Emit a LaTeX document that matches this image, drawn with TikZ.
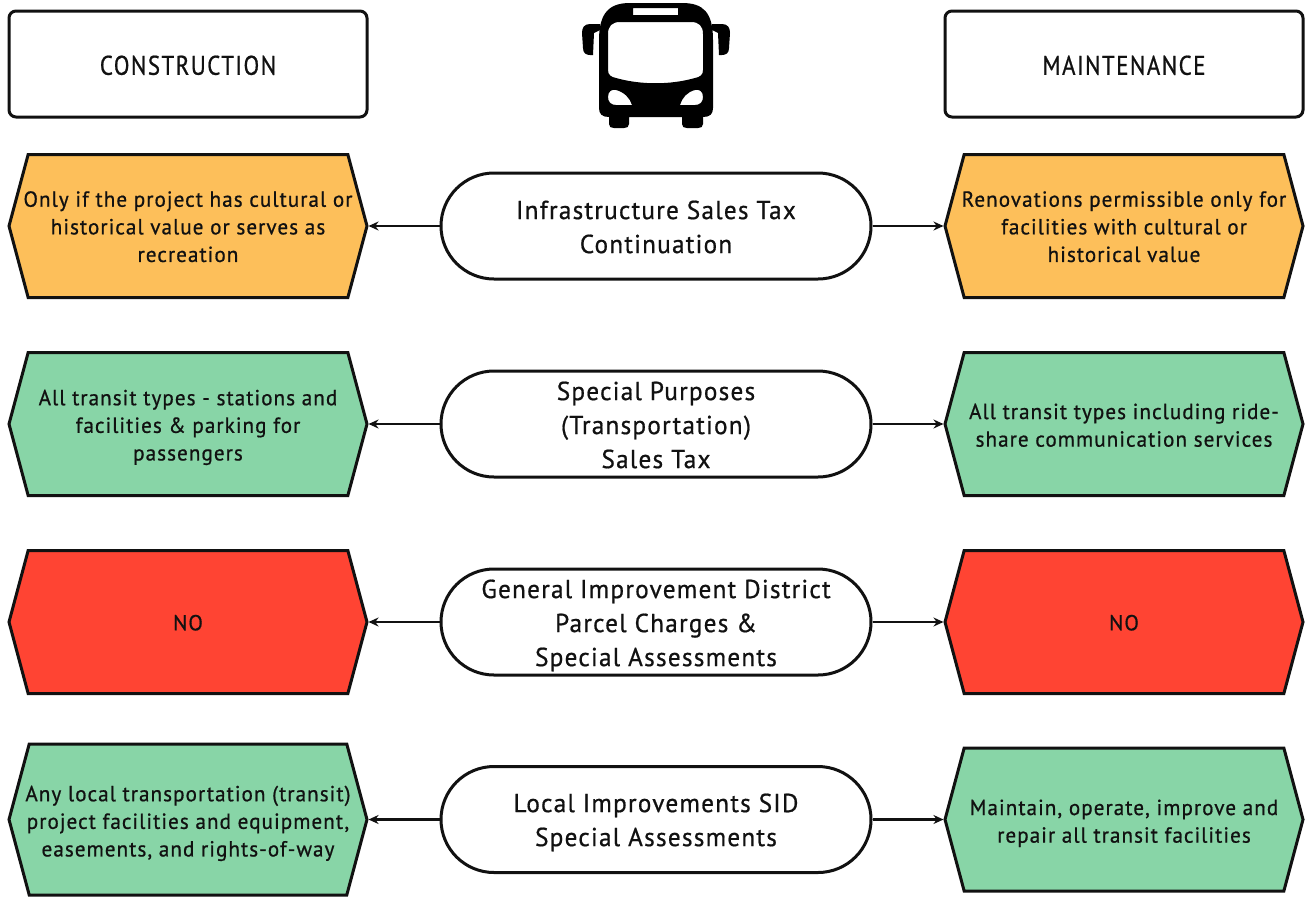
\documentclass[tikz,border=0pt]{standalone}
\usepackage{fontspec}
\setmainfont[LetterSpace=4.8,FakeStretch=0.97,FakeBold=0.7]{PT Sans}
\newfontfamily\headfont[LetterSpace=5.4,FakeStretch=0.85,FakeBold=0.7]{PT Sans}
\usetikzlibrary{shapes.misc,shapes.symbols,arrows.meta}
\definecolor{amber}{HTML}{FDBF5A}
\definecolor{mint}{HTML}{88D5A7}
\definecolor{alert}{HTML}{FF4433}
\definecolor{ink}{HTML}{111111}
\newcommand{\tx}[2][0pt]{\raisebox{#1}[0pt][0pt]{\begin{tabular}[c]{@{}c@{}}#2\end{tabular}}}
\tikzset{
  header/.style={draw=ink,line width=3pt,rounded corners=7pt,minimum width=358pt,minimum height=106pt,inner sep=0pt,text=ink,font=\headfont\fontsize{27}{30}\selectfont},
  pill/.style={draw=ink,line width=3pt,fill=white,rounded rectangle,minimum width=430pt,minimum height=106pt,inner sep=0pt,text=ink,font=\fontsize{26}{34}\selectfont},
  hexa/.style={draw=ink,line width=3pt,signal,signal to=west and east,signal pointer angle=150,minimum width=358pt,minimum height=#1,inner ysep=0pt,inner xsep=-30pt,text=ink,font=\fontsize{21.8}{27.6}\selectfont},
  hexa/.default=143pt,
  link/.style={draw=ink,line width=2.2pt,-{Stealth[length=10pt,width=9pt]}}
}
\begin{document}
\begin{tikzpicture}[x=1pt,y=-1pt]
\useasboundingbox (0,0) rectangle (1308,897);
\fill[white] (0,0) rectangle (1308,897);

\node[header] (hc) at (188,64) {\tx[-11pt]{CONSTRUCTION}};
\node[header] (hm) at (1124,64) {\tx[-11pt]{MAINTENANCE}};

% bus
\fill[black,even odd rule]
  (599,40) .. controls (599,12) and (610,3) .. (630,3) -- (682,3)
  .. controls (703,3) and (713,12) .. (713,40) -- (713,108)
  .. controls (713,114) and (710,117) .. (703,117) -- (703,124)
  .. controls (703,127) and (701,128) .. (698,128) -- (687,128)
  .. controls (684,128) and (682,127) .. (682,124) -- (682,117)
  -- (629,117) -- (629,124)
  .. controls (629,127) and (627,128) .. (624,128) -- (614,128)
  .. controls (611,128) and (609,127) .. (609,124) -- (609,117)
  .. controls (602,117) and (599,114) .. (599,108) -- cycle
  (633,8) rectangle (678,15)
  (620,22) -- (691,22) .. controls (699,22) and (703,26) .. (703,34) -- (703,70)
  .. controls (703,75) and (700,77) .. (695,78) .. controls (670,85) and (641,85) .. (616,78)
  .. controls (611,77) and (608,75) .. (608,70) -- (608,34)
  .. controls (608,26) and (612,22) .. (620,22) -- cycle
  (608,97) .. controls (608,91) and (612,89) .. (616,90) .. controls (624,92) and (630,98) .. (632,105)
  -- (616,105) .. controls (611,105) and (608,102) .. (608,97) -- cycle
  (703,97) .. controls (703,91) and (699,89) .. (695,90) .. controls (687,92) and (682,98) .. (680,105)
  -- (695,105) .. controls (700,105) and (703,102) .. (703,97) -- cycle;
\fill[black] (600,24) -- (590,24) .. controls (584,24) and (582,28) .. (582,33) -- (583,48)
  .. controls (583,53) and (586,55) .. (590,55) -- (593,55) -- (594,33) -- (600,30) -- cycle;
\fill[black] (712,24) -- (722,24) .. controls (728,24) and (730,28) .. (730,33) -- (729,48)
  .. controls (729,53) and (726,55) .. (722,55) -- (719,55) -- (718,33) -- (712,30) -- cycle;

% row 1
\node[pill] (p1) at (656,226) {\tx[-9.5pt]{Infrastructure Sales Tax\\Continuation}};
\node[hexa,fill=amber] (l1) at (188,226) {\tx[-8pt]{Only if the project has cultural or\\historical value or serves as\\recreation}};
\node[hexa,fill=amber] (r1) at (1124,226) {\tx[-8pt]{Renovations permissible only for\\facilities with cultural or\\historical value}};
% row 2
\node[pill] (p2) at (656,424) {\tx[-9.5pt]{Special Purposes\\(Transportation)\\Sales Tax}};
\node[hexa,fill=mint] (l2) at (188,424) {\tx[-8.5pt]{All transit types - stations and\\facilities \& parking for\\passengers}};
\node[hexa,fill=mint] (r2) at (1124,424) {\tx[-8.5pt]{All transit types including ride-\\share communication services}};
% row 3
\node[pill] (p3) at (656,622) {\tx[-9.5pt]{General Improvement District\\Parcel Charges \&\\Special Assessments}};
\node[hexa,fill=alert] (l3) at (188,622) {\tx[-8pt]{NO}};
\node[hexa,fill=alert] (r3) at (1124,622) {\tx[-8pt]{NO}};
% row 4
\node[pill] (p4) at (656,819.5) {\tx[-9pt]{Local Improvements SID\\Special Assessments}};
\node[hexa=151pt,fill=mint] (l4) at (188,819.5) {\tx[-9pt]{Any local transportation (transit)\\project facilities and equipment,\\easements, and rights-of-way}};
\node[hexa,fill=mint] (r4) at (1124,819.5) {\tx[-9pt]{Maintain, operate, improve and\\repair all transit facilities}};

\foreach \k in {1,2,3,4}{
  \draw[link] (p\k.west) -- (l\k.east);
  \draw[link] (p\k.east) -- (r\k.west);
}
\end{tikzpicture}
\end{document}
